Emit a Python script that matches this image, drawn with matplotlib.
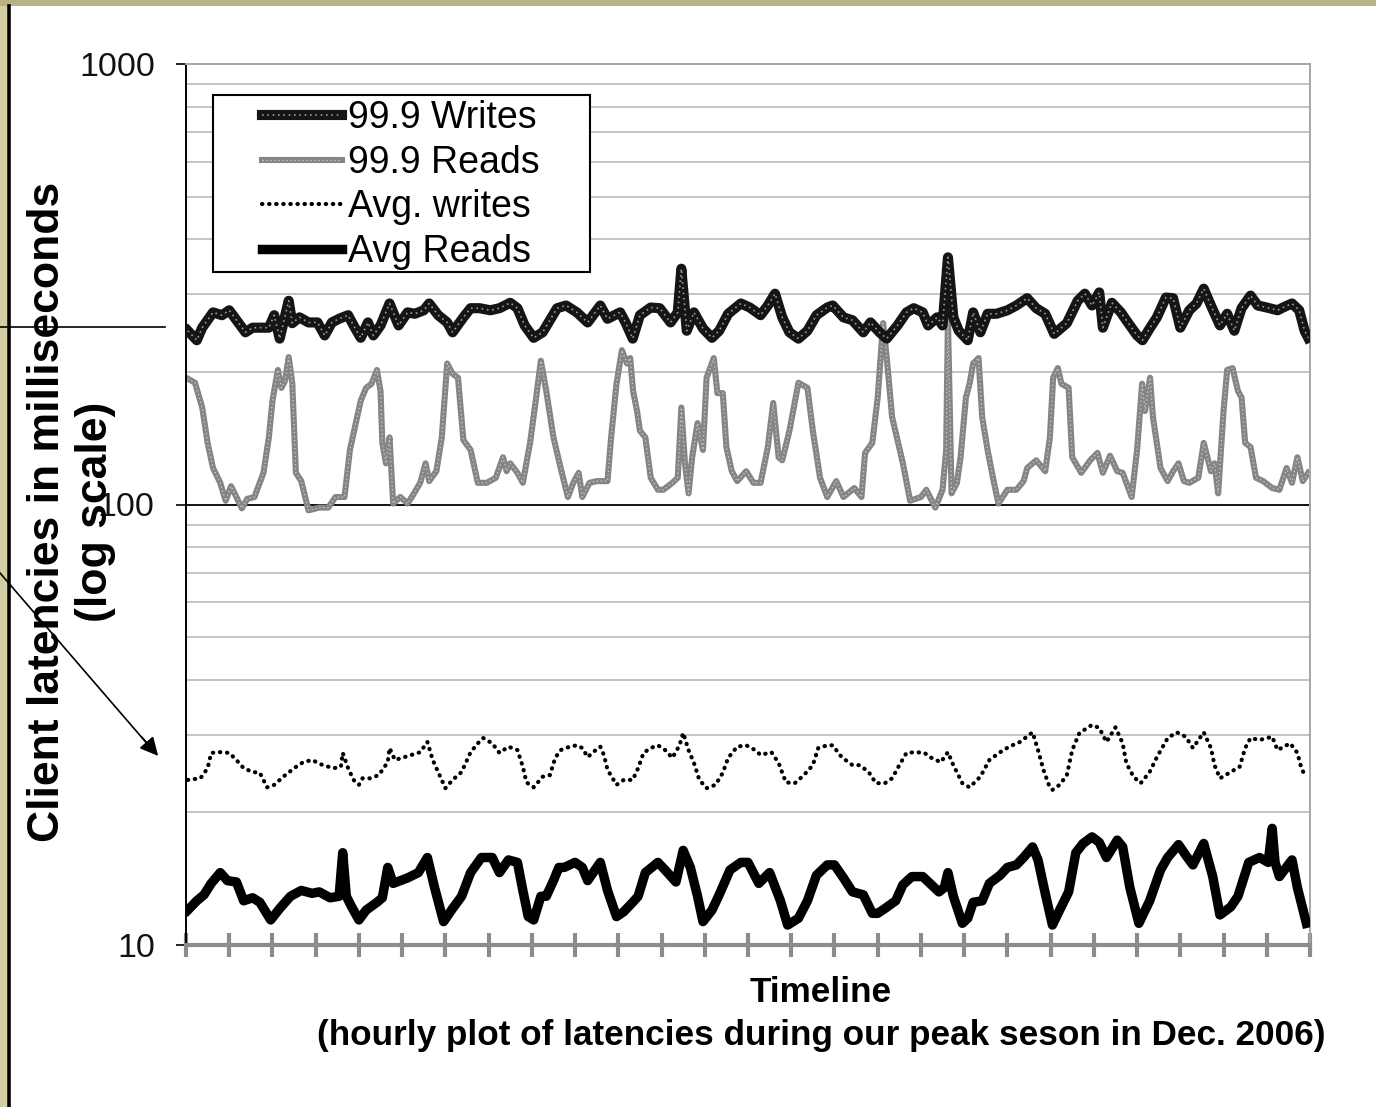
import matplotlib
matplotlib.use("Agg")
import matplotlib.pyplot as plt
from matplotlib.lines import Line2D
from matplotlib.patches import Rectangle
from matplotlib.ticker import LogLocator, NullFormatter

plt.rcParams['font.family'] = ['Liberation Sans', 'DejaVu Sans']

# ---------------- data (hours into the period, latency in ms) ----------------
writes999_h = [0.5, 3, 4.5, 7.5, 10, 12, 14.5, 16.5, 18.5, 20.5,
               23, 24.5, 26, 28.5, 29.5, 31.5, 34, 36.5, 38.5, 40.5,
               42.5, 45, 46.5, 48.5, 50.5, 52, 54, 56.5, 59, 61.5,
               63.5, 66, 67.5, 70, 72.5, 74, 77, 79, 81.5, 84.5,
               87, 90, 92, 94, 96.5, 99, 101, 103, 105.5, 108.5,
               111.5, 115, 117, 120.5, 122, 124, 126, 129, 131.5, 134.5,
               136.5, 137.5, 139, 141, 143.5, 146, 148, 150.5, 154, 156.5,
               159.5, 161.5, 163.5, 165.5, 167.5, 170, 172.5, 175, 178, 179.5,
               182.5, 185, 188, 190, 192.5, 194.5, 197.5, 200, 202, 204.5,
               206, 208.5, 210, 211.5, 213, 214.5, 217, 218.5, 220.5, 222.5,
               225, 228, 230.5, 233.5, 236, 238.5, 241, 244.5, 247.5, 249.5,
               251.5, 253.5, 254.5, 257, 259.5, 261, 264, 265.5, 267.5, 269.5,
               272, 274, 276, 278.5, 280.5, 282.5, 284.5, 287, 289, 291,
               293, 295.5, 297.5, 300, 303, 304.5, 307, 309, 310.5, 311.5]
writes999_ms = [248, 236, 252, 273, 269, 276, 259, 246, 252, 252,
                252, 269, 238, 290, 258, 266, 259, 259, 242, 259,
                264, 269, 255, 239, 259, 242, 255, 286, 255, 273,
                271, 276, 286, 269, 259, 246, 266, 279, 279, 276,
                279, 287, 279, 255, 239, 246, 262, 279, 283, 273,
                259, 283, 264, 273, 259, 238, 269, 280, 279, 259,
                273, 343, 248, 273, 251, 239, 248, 271, 286, 280,
                269, 283, 301, 266, 246, 238, 248, 269, 280, 283,
                266, 262, 246, 259, 246, 238, 255, 273, 279, 273,
                255, 266, 255, 364, 266, 248, 236, 273, 246, 271,
                271, 276, 283, 294, 279, 271, 244, 258, 290, 301,
                283, 303, 252, 287, 273, 262, 242, 236, 251, 266,
                295, 294, 252, 276, 286, 309, 283, 255, 271, 248,
                279, 298, 283, 280, 276, 280, 286, 276, 248, 239]

reads999_h = [0.5, 2.5, 4.5, 6, 7.5, 9.5, 11, 12.5, 13.5, 15.5,
              17, 19, 21.5, 23, 24, 25.5, 26.5, 27.5, 28.5, 29.5,
              30.5, 32, 34, 37, 39.5, 41.5, 44, 45.5, 48.5, 50,
              51.5, 53, 54, 54.5, 55.5, 56.5, 57.5, 59.5, 61.5, 63,
              65, 66.5, 67.5, 69.5, 71, 72.5, 74, 75.5, 77, 79,
              81, 83.5, 86, 88, 89, 90, 92, 93.5, 95.5, 97,
              98.5, 100, 102, 104, 106, 107.5, 109, 110, 112, 114,
              117, 118, 119.5, 121, 122.4, 123.3, 124.1, 125.2, 126, 127.5,
              129, 131, 132.5, 135, 136.5, 137.5, 138.5, 139.5, 140.5, 142,
              143.5, 144.5, 146.5, 147.5, 149, 150, 151.5, 153, 155.5, 157.5,
              159.5, 161.5, 163, 164.5, 165.5, 167.5, 170, 172.5, 174, 176,
              178, 180.5, 182.5, 185.5, 187.5, 188.5, 190.5, 192, 193.5, 194.5,
              196, 199, 201, 204, 205.5, 208, 210, 211, 211.5, 212.5,
              214, 215, 216.5, 217.5, 218.5, 220, 221, 222.5, 224, 225.5,
              228, 230.5, 232.5, 233.5, 236, 238.5, 239.8, 240.7, 242, 243,
              245, 246, 248.5, 251, 253, 254.5, 256.5, 258.5, 260, 262.5,
              264, 265.4, 266.2, 267.6, 268.4, 270.5, 272.5, 274, 275.5, 277,
              278.5, 281, 282.5, 284.5, 285.5, 286.5, 288, 289, 290.5, 292,
              293, 294, 295.5, 297, 299, 301.5, 303.5, 305.5, 307, 308.5,
              310, 311.5]
reads999_ms = [193, 189, 166, 138, 121, 112, 102, 110, 106, 98,
               103, 104, 118, 142, 172, 202, 184, 191, 216, 189,
               118, 113, 97, 98.4, 98.4, 104, 104, 133, 172, 184,
               188, 202, 181, 138, 124, 142, 100.5, 104, 100.5, 105,
               112, 124, 113, 119, 142, 209, 198, 194, 140, 133,
               112, 112, 115, 128, 119, 124, 118, 112, 138, 170,
               212, 181, 142, 121, 104, 112, 118, 104, 112, 113,
               113, 142, 188, 224, 209, 215, 181, 163, 147, 142,
               115, 108, 108, 112, 115, 166, 124, 106, 128, 153,
               133, 194, 215, 179, 179, 135, 119, 113, 119, 112,
               112, 135, 170, 128, 126, 147, 189, 184, 147, 115,
               104, 113, 104, 109, 104, 131, 138, 175, 258, 216,
               158, 124, 102, 104, 108, 98.4, 108, 133, 265, 106,
               112, 128, 175, 188, 209, 215, 158, 133, 115, 100.5,
               108, 108, 113, 121, 126, 119, 142, 194, 204, 188,
               184, 128, 118, 126, 131, 118, 129, 119, 118, 104,
               133, 188, 163, 194, 158, 121, 113, 119, 124, 113,
               112, 115, 138, 119, 124, 106, 163, 202, 204, 181,
               175, 138, 135, 115, 113, 109, 108, 121, 112, 128,
               113, 118]

avgw_h = [0.5, 4, 6, 7, 9.5, 12, 14, 16, 18.5, 20.5,
          22.5, 24.5, 27, 30, 32.5, 35, 38, 41, 43, 43.5,
          45, 46.5, 48, 49, 51, 53.5, 56, 56.5, 58, 60,
          62.5, 65, 67, 68.5, 70, 72, 74, 76.5, 79, 81,
          82.5, 85, 87, 89.5, 92, 93.5, 94.5, 96.5, 99, 101,
          102.5, 104, 106.5, 108.5, 110, 111.5, 113, 115, 116, 117,
          119.5, 121.5, 124, 125.5, 127, 129, 131, 133, 135, 137,
          138, 139.5, 141, 142.5, 144.5, 147, 149, 150.5, 153, 155.5,
          158, 159.5, 162.5, 164.5, 166.5, 169, 171.5, 174, 175.5, 178,
          179.5, 182, 185, 187, 189.5, 191.5, 194, 196, 198, 200,
          202.5, 205, 206.5, 209.5, 211.5, 213, 215.5, 217.5, 220.5, 223,
          226, 228.5, 231.5, 235, 236.5, 238, 239.5, 240.5, 242.5, 244.5,
          246, 248, 251.5, 253.5, 255.5, 258, 260, 261, 263, 265,
          267.5, 269.5, 272.5, 275, 277.5, 279.5, 282.5, 284.5, 285.5, 287,
          290, 292.5, 294, 295.5, 298, 301.5, 303, 306.5, 308.5, 309.5,
          310.5]
avgw_ms = [23.7, 23.9, 25.2, 27.3, 27.4, 27.3, 26.3, 25.2, 24.7, 24.6,
           22.8, 23.1, 24.1, 25.2, 26.0, 26.3, 25.6, 25.2, 25.4, 27.3,
           25.2, 23.7, 23.1, 23.9, 23.9, 24.3, 26.0, 28.0, 26.3, 26.6,
           27.0, 27.4, 28.9, 26.3, 24.7, 22.7, 23.7, 24.7, 27.4, 28.7,
           29.5, 28.7, 27.3, 28.2, 27.7, 25.4, 23.4, 22.8, 24.1, 24.3,
           26.6, 27.7, 28.2, 28.4, 28.0, 26.7, 27.4, 28.2, 27.0, 25.0,
           23.1, 23.7, 23.7, 25.2, 27.3, 28.0, 28.4, 27.7, 26.6, 28.4,
           30.3, 27.7, 25.9, 23.7, 22.7, 23.1, 24.6, 26.6, 28.2, 28.4,
           27.7, 27.0, 27.4, 25.9, 23.4, 23.3, 24.3, 25.6, 28.0, 28.4,
           28.4, 26.7, 25.6, 25.6, 24.7, 23.3, 23.3, 23.9, 25.6, 27.3,
           27.4, 27.3, 26.7, 26.0, 27.4, 25.6, 23.3, 22.8, 24.1, 26.3,
           27.4, 28.2, 28.9, 30.4, 27.7, 25.0, 23.1, 22.5, 23.1, 24.3,
           27.7, 30.3, 31.6, 31.1, 28.9, 31.2, 28.7, 25.9, 24.1, 23.3,
           24.7, 26.7, 29.5, 30.4, 29.7, 28.0, 30.4, 28.0, 25.6, 23.9,
           24.7, 25.4, 28.0, 29.5, 29.2, 29.7, 27.7, 28.7, 27.3, 25.4,
           24.3]

avgr_h = [0.5, 3, 5, 7, 9.5, 11.5, 14, 16, 18.5, 20.5,
          23.5, 26, 29, 32, 35, 37, 40, 42.5, 43.5, 44.5,
          46, 48, 50, 53, 54.5, 56, 57.5, 61.5, 64.5, 67,
          69, 71.5, 74, 76.5, 79, 82, 85, 87, 89.5, 92,
          93.5, 95, 96.5, 98.5, 100, 102, 103.5, 105, 108, 110,
          111.5, 115, 117, 119.5, 121.5, 124, 125.5, 127.5, 131, 133,
          136, 138, 140, 142, 143.5, 146, 148, 151, 154, 156,
          159, 162, 165, 167, 170, 172.5, 175, 178, 180, 182.5,
          185, 188, 190.5, 192, 194, 197, 199, 201.5, 204.5, 209,
          210.5, 211.5, 213, 215.5, 217, 218.5, 221, 223, 226, 228,
          230.5, 232.5, 235, 236.5, 238.5, 240.5, 242.5, 245, 247, 249,
          251.5, 253.5, 255.5, 258.5, 260, 262, 264.5, 267.5, 270.5, 272.5,
          275.5, 277.5, 279.5, 282.5, 285, 287, 290, 292, 295, 298,
          300.4, 301.5, 302.3, 303.5, 307, 308.5, 311]
avgr_ms = [12.0, 12.6, 13.0, 13.8, 14.6, 14.0, 13.9, 12.6, 12.8, 12.5,
           11.4, 12.1, 12.9, 13.3, 13.1, 13.2, 12.8, 12.9, 16.2, 12.9,
           12.2, 11.4, 12.0, 12.5, 12.8, 15.0, 13.8, 14.2, 14.6, 15.8,
           13.5, 11.3, 12.1, 12.9, 14.6, 15.8, 15.8, 14.6, 15.6, 15.4,
           13.3, 11.6, 11.4, 12.9, 12.9, 14.0, 15.0, 15.0, 15.4, 15.0,
           14.0, 15.4, 13.3, 11.6, 11.9, 12.5, 12.9, 14.6, 15.4, 14.8,
           13.9, 16.4, 15.0, 12.9, 11.3, 12.0, 13.0, 14.8, 15.4, 15.4,
           13.8, 14.6, 12.6, 11.1, 11.5, 12.6, 14.4, 15.2, 15.2, 14.2,
           13.2, 13.0, 11.8, 11.8, 12.1, 12.6, 13.7, 14.3, 14.3, 13.2,
           13.5, 14.6, 12.9, 11.2, 11.5, 12.5, 12.6, 13.8, 14.4, 15.0,
           15.2, 15.8, 16.7, 15.6, 13.1, 11.1, 12.0, 13.2, 16.2, 17.0,
           17.6, 17.1, 15.8, 17.3, 16.7, 13.5, 11.2, 12.6, 14.8, 15.8,
           16.9, 16.0, 15.2, 17.0, 14.3, 11.7, 12.2, 12.9, 15.4, 15.8,
           15.4, 18.4, 15.4, 14.3, 15.6, 13.5, 11.2]

y_ticks = [10, 100, 1000]
y_tick_labels = ['10', '100', '1000']
x_ticks = list(range(0, 313, 12))
series_labels = ['99.9 Writes', '99.9 Reads', 'Avg. writes', 'Avg Reads']

# ---------------- figure ----------------
W, H = 1376, 1107
fig = plt.figure(figsize=(W / 100, H / 100), dpi=100, facecolor='white')


def fx(px):
    return px / W


def fy(py):
    return 1 - py / H


ax = fig.add_axes([fx(186), fy(945), fx(1310) - fx(186), fy(64) - fy(945)])
ax.set_yscale('log')
ax.set_ylim(10, 1000)
ax.set_xlim(0, 312)

# grid
ax.yaxis.set_minor_locator(LogLocator(base=10, subs=range(2, 10)))
ax.yaxis.set_minor_formatter(NullFormatter())
ax.grid(which='minor', axis='y', color='#c4c4c4', lw=1.4, zorder=0)
ax.axhline(100, color='black', lw=1.3, zorder=1)
ax.set_axisbelow(True)

# series
w_base, = ax.plot(writes999_h, writes999_ms, color='#151515', lw=7.3,
                  solid_joinstyle='round', zorder=3)
w_over, = ax.plot(writes999_h, writes999_ms, color='#9a9a9a', lw=1.2,
                  linestyle=(0, (1, 2.2)), zorder=3.1)
r_base, = ax.plot(reads999_h, reads999_ms, color='#858585', lw=4.4,
                  solid_joinstyle='round', zorder=2.5)
r_over, = ax.plot(reads999_h, reads999_ms, color='#cfcfcf', lw=0.9,
                  linestyle=(0, (1, 2.2)), zorder=2.6)
aw_line, = ax.plot(avgw_h, avgw_ms, color='black', lw=3.0,
                   linestyle=(0, (0.1, 1.6)), dash_capstyle='round', zorder=3)
ar_line, = ax.plot(avgr_h, avgr_ms, color='black', lw=6.8,
                   solid_joinstyle='round', zorder=3)

# axes styling
ax.set_yticks(y_ticks)
ax.set_yticklabels(y_tick_labels)
ax.set_xticks(x_ticks)
ax.set_xticklabels([])
ax.tick_params(axis='y', which='major', direction='out', length=7.5, width=1.2,
               color='black', labelsize=24.5, pad=15, labelcolor='#111111')
ax.tick_params(axis='y', which='minor', length=0)
ax.tick_params(axis='x', which='major', direction='inout', length=17, width=3,
               color='#8c8c8c')
ax.spines['left'].set_color('black')
ax.spines['left'].set_linewidth(1.4)
ax.spines['bottom'].set_color('#8c8c8c')
ax.spines['bottom'].set_linewidth(3)
for s in ('top', 'right'):
    ax.spines[s].set_color('#a6a6a6')
    ax.spines[s].set_linewidth(1.4)

# legend
frame = Rectangle(((213 - 186) / 1124, (945 - 272) / 881), 377 / 1124, 177 / 881,
                  transform=ax.transAxes, facecolor='white', edgecolor='black',
                  lw=1.5, zorder=6)
ax.add_patch(frame)
h_w = (Line2D([], [], color='#151515', lw=7.3),
       Line2D([], [], color='#9a9a9a', lw=1.2, linestyle=(0, (1, 2.2))))
h_r = (Line2D([], [], color='#858585', lw=4.4),
       Line2D([], [], color='#cfcfcf', lw=0.9, linestyle=(0, (1, 2.2))))
h_aw = Line2D([], [], color='black', lw=3.0, linestyle=(0, (0.1, 1.6)),
              dash_capstyle='round')
h_ar = Line2D([], [], color='black', lw=6.8)
leg = ax.legend([h_w, h_r, h_aw, h_ar], series_labels, loc='upper left',
                bbox_to_anchor=((262 - 186) / 1124, (945 - 100) / 881),
                frameon=False, fontsize=27, handlelength=2.13,
                handletextpad=0.16, labelspacing=0.23, borderpad=0,
                borderaxespad=0)
leg.set_zorder(7)

# axis titles
fig.text(fx(48), fy(512), 'Client latencies in milliseconds', rotation=90,
         fontsize=32, fontweight='bold', ha='center', va='center')
fig.text(fx(95), fy(512), '(log scale)', rotation=90,
         fontsize=32, fontweight='bold', ha='center', va='center')
fig.text(fx(821), fy(992), 'Timeline', fontsize=25.3, fontweight='bold',
         ha='center', va='center')
fig.text(fx(821), fy(1036),
         '(hourly plot of latencies during our peak seson in Dec. 2006)',
         fontsize=25.3, fontweight='bold', ha='center', va='center')

# slide decorations
fig.add_artist(Rectangle((0, fy(6)), 1, 6 / H, transform=fig.transFigure,
                         facecolor='#b9b383', edgecolor='none'))
fig.add_artist(Rectangle((0, 0), fx(7), fy(6), transform=fig.transFigure,
                         facecolor='#d3cca5', edgecolor='none'))
fig.add_artist(Line2D([fx(8.5), fx(8.5)], [0, fy(6)], transform=fig.transFigure,
                      color='black', lw=2.6))
fig.add_artist(Line2D([0, fx(165)], [fy(327), fy(327)], transform=fig.transFigure,
                      color='black', lw=1.2))
fig.add_artist(Line2D([0, fx(150)], [fy(573), fy(747)], transform=fig.transFigure,
                      color='black', lw=1.2))
ax.annotate('', xy=(fx(160), fy(758)), xytext=(fx(140), fy(735)),
            xycoords='figure fraction', textcoords='figure fraction',
            arrowprops=dict(arrowstyle='-|>', color='black', lw=1.2,
                            mutation_scale=28), annotation_clip=False)

fig.savefig('out.png', dpi=100, facecolor='white')
